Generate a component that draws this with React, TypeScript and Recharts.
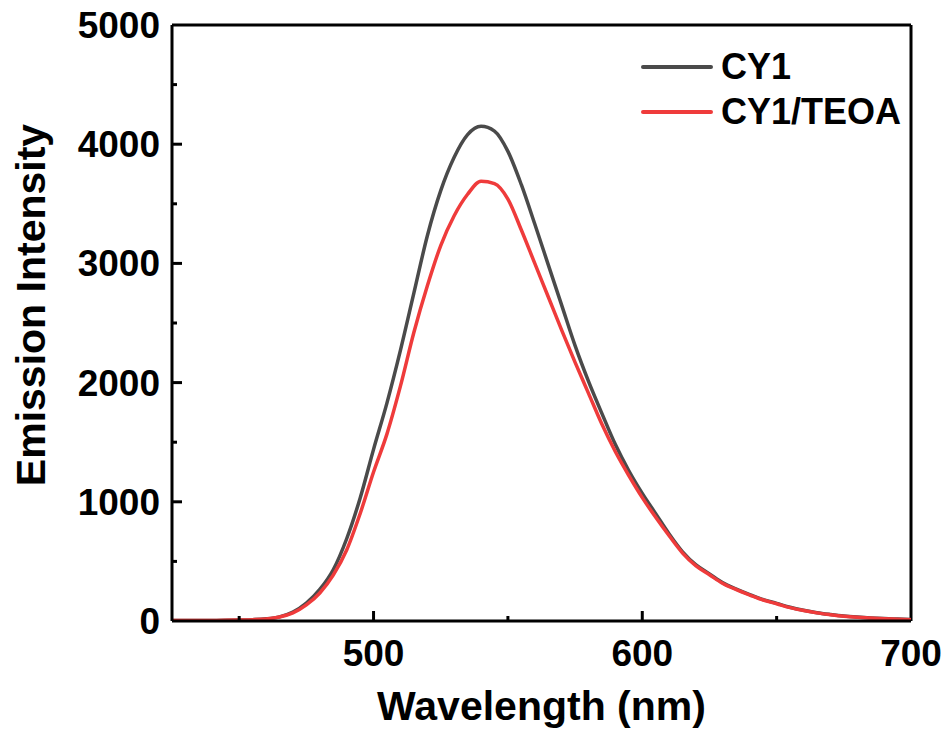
import React from "react";
import { LineChart, Line, XAxis, YAxis, ReferenceLine } from "recharts";

// wavelength grid (nm)
const wavelengths = [
  425, 430, 435, 440, 445, 450, 455, 460, 465, 470, 475, 480, 485, 490, 495, 500,
  505, 510, 515, 520, 525, 530, 535, 540, 545, 550, 555, 560, 565, 570, 575, 580,
  585, 590, 595, 600, 605, 610, 615, 620, 625, 630, 635, 640, 645, 650, 655, 660,
  665, 670, 675, 680, 685, 690, 695, 700,
];

const cy1 = [
  4, 4, 5, 5, 6, 8, 11, 18, 35, 75, 150, 265, 430, 690, 1030, 1440,
  1830, 2270, 2750, 3230, 3610, 3890, 4080, 4150, 4110, 3940, 3660, 3330, 2990, 2650, 2310, 2010,
  1740, 1480, 1260, 1070, 900, 730, 580, 470, 395, 320, 268, 222, 180, 148, 115, 90,
  70, 55, 42, 33, 26, 20, 16, 12,
];

const cy1Teoa = [
  4, 4, 5, 5, 6, 8, 11, 17, 33, 68, 135, 235, 385, 595, 900, 1250,
  1570, 1970, 2420, 2810, 3150, 3400, 3580, 3690, 3670, 3540, 3280, 3000, 2720, 2440, 2170, 1910,
  1650, 1420, 1220, 1035, 870, 715, 570, 462, 388, 315, 263, 218, 176, 145, 112, 88,
  68, 53, 40, 31, 25, 19, 15, 11,
];

const xTicks = [450, 500, 550, 600, 650, 700];
const yTicks = [0, 500, 1000, 1500, 2000, 2500, 3000, 3500, 4000, 4500, 5000];

const seriesNames = ["CY1", "CY1/TEOA"];
const seriesColors = ["#4a4a4a", "#ef3b3b"];

const data = wavelengths.map((w, i) => ({ w, a: cy1[i], b: cy1Teoa[i] }));

const FONT = "'Liberation Sans', Arial, sans-serif";

const XTick = (props: any) => {
  const { x, y, payload } = props;
  const major = payload.value % 100 === 0;
  return (
    <g>
      {payload.value !== 700 && (
        <line x1={x} x2={x} y1={y} y2={y - (major ? 10 : 5)} stroke="#000" strokeWidth={3} />
      )}
      {major && (
        <text x={x} y={y + 45} textAnchor="middle" fontFamily={FONT} fontWeight="bold" fontSize={37} fill="#000">
          {payload.value}
        </text>
      )}
    </g>
  );
};

const YTick = (props: any) => {
  const { x, y, payload } = props;
  const major = payload.value % 1000 === 0;
  return (
    <g>
      {payload.value !== 0 && payload.value !== 5000 && (
        <line x1={x} x2={x + (major ? 10 : 5)} y1={y} y2={y} stroke="#000" strokeWidth={3} />
      )}
      {major && (
        <text x={x - 12} y={y + 13} textAnchor="end" fontFamily={FONT} fontWeight="bold" fontSize={37} fill="#000">
          {payload.value}
        </text>
      )}
    </g>
  );
};

const ChartLegend = () => (
  <div
    style={{
      position: "absolute",
      left: 641,
      top: 44,
      fontFamily: FONT,
      fontWeight: "bold",
      fontSize: 36,
    }}
  >
    {seriesNames.map((n, i) => (
      <div key={n} style={{ display: "flex", alignItems: "center", height: 45 }}>
        <svg width={72} height={10} style={{ marginRight: 8 }}>
          <line x1={2} x2={70} y1={5} y2={5} stroke={seriesColors[i]} strokeWidth={4} strokeLinecap="round" />
        </svg>
        <span style={{ color: "#000", lineHeight: "45px" }}>{n}</span>
      </div>
    ))}
  </div>
);

export default function App() {
  return (
    <div style={{ position: "absolute", left: 0, top: 0, width: 948, height: 730, background: "#fff" }}>
      <LineChart width={948} height={730} data={data} margin={{ top: 25, right: 37, bottom: 0, left: 0 }}>
        <XAxis
          dataKey="w"
          type="number"
          domain={[425, 700]}
          ticks={xTicks}
          height={109}
          tickSize={0}
          tickMargin={0}
          tickLine={false}
          tick={<XTick />}
          axisLine={{ stroke: "#000", strokeWidth: 3 }}
          allowDataOverflow
          label={{
            value: "Wavelength (nm)",
            position: "insideBottom",
            offset: 10,
            style: { fontFamily: FONT, fontWeight: "bold", fontSize: 41, fill: "#000" },
          }}
        />
        <YAxis
          type="number"
          domain={[0, 5000]}
          ticks={yTicks}
          width={172}
          tickSize={0}
          tickMargin={0}
          tickLine={false}
          tick={<YTick />}
          axisLine={{ stroke: "#000", strokeWidth: 3 }}
          allowDataOverflow
          label={{
            content: (p: any) => {
              const vb = p.viewBox || { x: 0, y: 25, width: 172, height: 596 };
              const cx = 31;
              const cy = vb.y + vb.height / 2 - 18;
              return (
                <text
                  x={cx}
                  y={cy}
                  transform={`rotate(-90 ${cx} ${cy})`}
                  textAnchor="middle"
                  dominantBaseline="central"
                  fontFamily={FONT}
                  fontWeight="bold"
                  fontSize={41}
                  fill="#000"
                >
                  Emission Intensity
                </text>
              );
            },
          }}
        />
        <ReferenceLine y={5000} stroke="#000" strokeWidth={3} ifOverflow="visible" />
        <ReferenceLine x={700} stroke="#000" strokeWidth={3} ifOverflow="visible" />
        <Line
          dataKey="a"
          name={seriesNames[0]}
          stroke={seriesColors[0]}
          strokeWidth={3.5}
          dot={false}
          type="monotone"
          isAnimationActive={false}
        />
        <Line
          dataKey="b"
          name={seriesNames[1]}
          stroke={seriesColors[1]}
          strokeWidth={3.5}
          dot={false}
          type="monotone"
          isAnimationActive={false}
        />
      </LineChart>
      <ChartLegend />
    </div>
  );
}
